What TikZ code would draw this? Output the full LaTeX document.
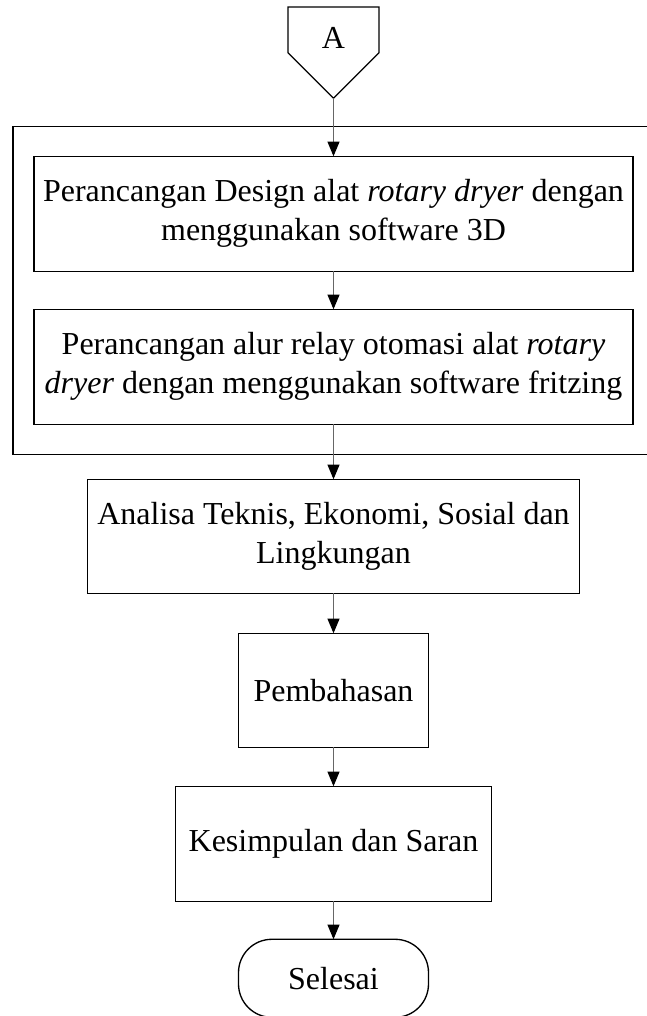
\documentclass[tikz,border=0pt]{standalone}
\usepackage{fontspec}
\setmainfont{Liberation Serif}
\usepackage{tikz}
\usetikzlibrary{arrows.meta,positioning,shapes.symbols,fit}
\tikzset{
  box/.style   = {draw, line width=1pt, align=center, inner sep=2pt, outer sep=0pt, font=\fontsize{24}{29.25}\selectfont},
  wide/.style  = {minimum width=449.25pt, minimum height=86.25pt},
  frame/.style = {draw, line width=1pt, inner xsep=15.75pt, inner ysep=22.5pt},
  line/.style  = {-{Triangle[length=11pt,width=9pt,color=black]}, line width=0.8pt, draw=black!60},
}

\begin{document}
\begin{tikzpicture}[x=0.75pt,y=0.75pt]
    \useasboundingbox (0,0) rectangle (646,-1016);

    % Off-page connector
    \node[box, signal, signal to=south, signal from=nowhere, minimum width=68.25pt,
          minimum height=45pt, text height=28pt, anchor=north] (conA) at (333.5,-7) {A};

    % Design group (two steps in a frame)
    \node[box, wide, below=43.5pt of conA] (design) {Perancangan Design alat \textit{rotary dryer} dengan\\ menggunakan software 3D};
    \node[box, wide, below=28.5pt of design] (relay) {Perancangan alur relay otomasi alat \textit{rotary}\\ \textit{dryer} dengan menggunakan software fritzing};
    \node[frame, fit=(design)(relay)] (group) {};

    % Remaining steps
    \node[box, below=41.25pt of relay, minimum width=369pt, minimum height=85.5pt] (analisa) {Analisa Teknis, Ekonomi, Sosial dan\\ Lingkungan};
    \node[box, below=30pt of analisa, minimum width=142.5pt, minimum height=85.5pt] (bahas) {Pembahasan};
    \node[box, below=29.25pt of bahas, minimum width=237pt, minimum height=86.25pt] (simpul) {Kesimpulan dan Saran};
    \node[box, below=28.5pt of simpul, rounded corners=25pt, minimum width=142.5pt, minimum height=58.5pt] (selesai) {Selesai};

    % Flow
    \draw[line] (conA.south) -- (design);
    \draw[line] (design) -- (relay);
    \draw[line] (relay) -- (analisa);
    \draw[line] (analisa) -- (bahas);
    \draw[line] (bahas) -- (simpul);
    \draw[line] (simpul) -- (selesai);
\end{tikzpicture}
\end{document}
